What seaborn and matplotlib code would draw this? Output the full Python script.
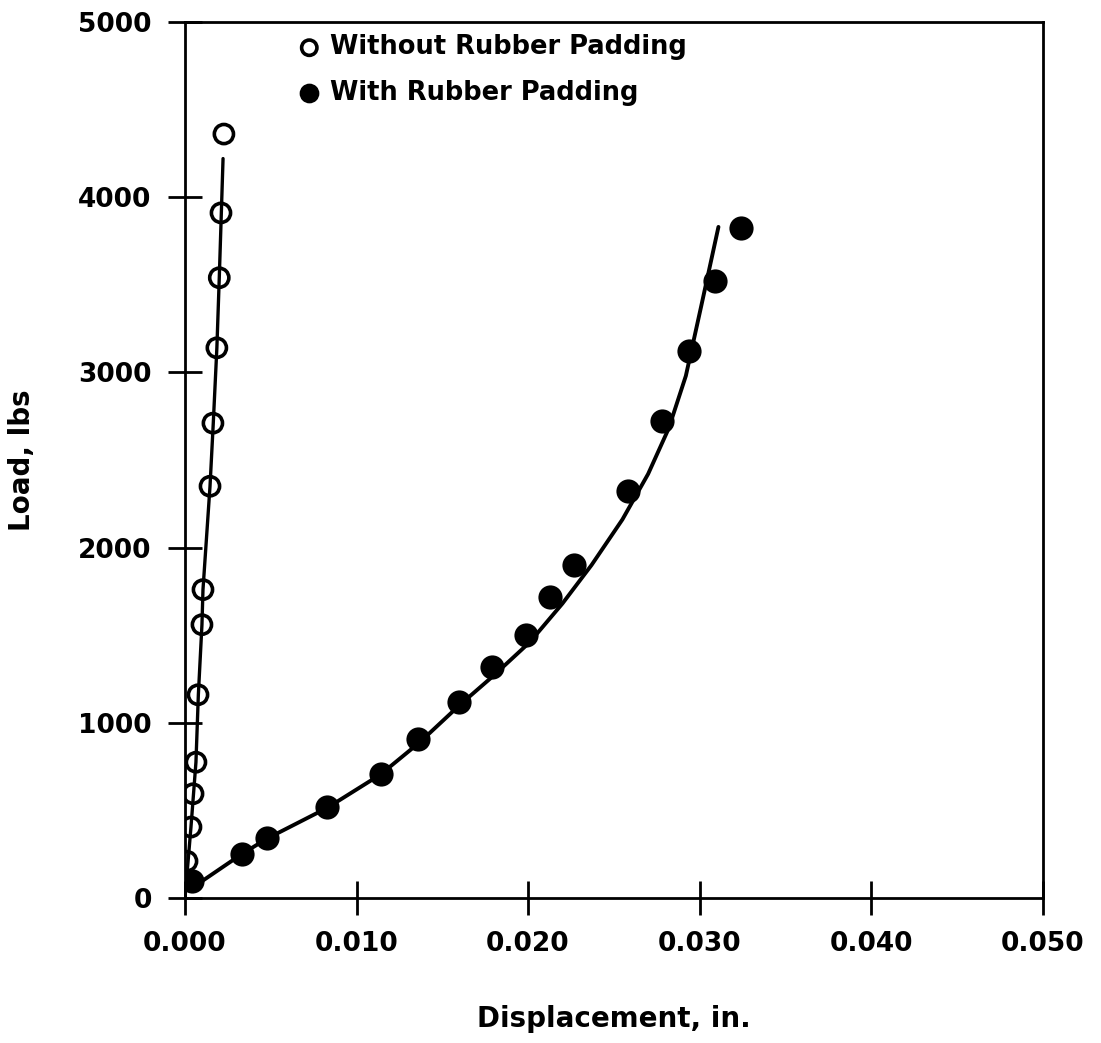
# -*- coding: utf-8 -*-

import pandas as pd
import seaborn as sns
import matplotlib.pyplot as plt

# measured points, without rubber padding (open circles)
disp_without = [0.00227, 0.00210, 0.00200, 0.00186, 0.00163, 0.00146, 0.00105,
                0.00099, 0.00076, 0.00064, 0.00047, 0.00035, 0.00012, 0.00000]
load_without = [4360, 3910, 3540, 3140, 2710, 2350, 1760,
                1560, 1160, 775, 595, 405, 210, 105]

# measured points, with rubber padding (filled circles)
disp_with = [0.0004, 0.0033, 0.0048, 0.0083, 0.0114, 0.0136, 0.0160, 0.0179,
             0.0199, 0.0213, 0.0227, 0.0258, 0.0278, 0.0294, 0.0309, 0.0324]
load_with = [100, 250, 340, 520, 710, 910, 1120, 1320,
             1500, 1720, 1900, 2325, 2720, 3120, 3520, 3825]

# fitted curves
fit_without_x = [0.0000, 0.00035, 0.00064, 0.00078, 0.00099, 0.00105, 0.00146,
                 0.00165, 0.00186, 0.00200, 0.00212, 0.00222]
fit_without_y = [0, 405, 775, 1160, 1560, 1760, 2350, 2710, 3140, 3540, 3910, 4220]

fit_with_x = [0.0009, 0.0033, 0.0048, 0.0083, 0.0114, 0.0137, 0.0160, 0.0180,
              0.0201, 0.0220, 0.0237, 0.0255, 0.0270, 0.0282, 0.0292, 0.0301,
              0.0311]
fit_with_y = [90, 250, 340, 515, 705, 890, 1100, 1270,
              1460, 1680, 1900, 2160, 2420, 2680, 2980, 3380, 3830]

xticks = [0.0, 0.01, 0.02, 0.03, 0.04, 0.05]
yticks = [0, 1000, 2000, 3000, 4000, 5000]

pts_without = pd.DataFrame({'disp': disp_without, 'load': load_without})
pts_with = pd.DataFrame({'disp': disp_with, 'load': load_with})
fit_without = pd.DataFrame({'disp': fit_without_x, 'load': fit_without_y})
fit_with = pd.DataFrame({'disp': fit_with_x, 'load': fit_with_y})

sns.set_style("ticks")
plt.rcParams['font.family'] = ['DejaVu Sans']
plt.rcParams['font.weight'] = 'bold'
for k in ['text.color', 'axes.labelcolor', 'xtick.color', 'ytick.color', 'axes.edgecolor']:
    plt.rcParams[k] = 'black'

fig = plt.figure(figsize=(11.01, 10.43), dpi=100)
ax = fig.add_axes([0.168, 0.139, 0.779, 0.840])

sns.lineplot(x='disp', y='load', data=fit_without, sort=False, color='black',
             linewidth=2.4, ax=ax)
sns.lineplot(x='disp', y='load', data=fit_with, sort=False, color='black',
             linewidth=2.8, ax=ax)
sns.scatterplot(x='disp', y='load', data=pts_without, marker='o', s=190,
                facecolor='none', edgecolor='black', linewidth=2.6,
                label='Without Rubber Padding', ax=ax)
sns.scatterplot(x='disp', y='load', data=pts_with, marker='o', s=260,
                color='black', edgecolor='black',
                label='With Rubber Padding', ax=ax)

ax.set_xlim(0, 0.05)
ax.set_ylim(0, 5000)
ax.set_xticks(xticks)
ax.set_xticklabels(['%.3f' % v for v in xticks])
ax.set_yticks(yticks)
ax.tick_params(direction='inout', length=24, width=2, labelsize=19, pad=12)
for s in ax.spines.values():
    s.set_linewidth(2)
ax.set_xlabel('Displacement, in.', fontsize=20, fontweight='bold', labelpad=34)
ax.set_ylabel('Load, lbs', fontsize=20, fontweight='bold', labelpad=30)

ax.legend(loc='upper left', bbox_to_anchor=(0.1, 1.015), frameon=False,
          fontsize=18.5, handlelength=1.0, handletextpad=0.3, labelspacing=0.75,
          markerscale=0.8, borderaxespad=0.6)

plt.savefig('out.png', dpi=100)
